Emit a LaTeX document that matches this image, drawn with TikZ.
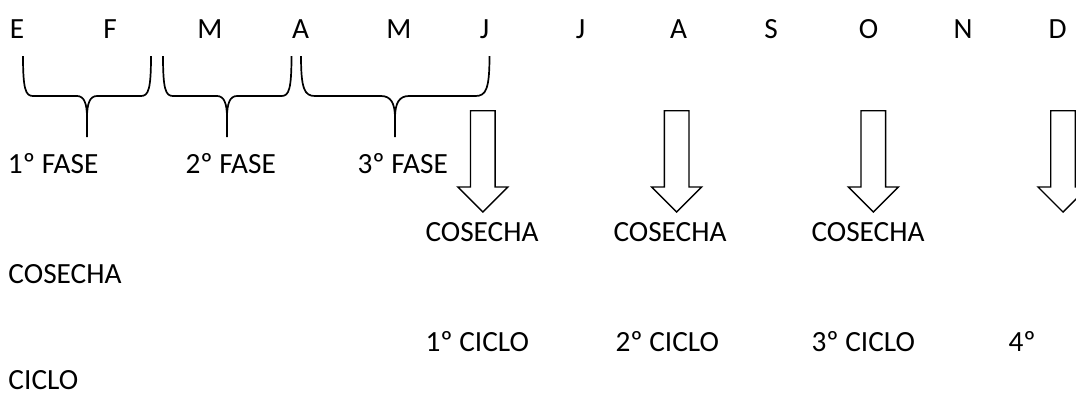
\documentclass[tikz,border=0pt]{standalone}
\usepackage{fontspec}
\setmainfont{Carlito}
\usepackage{tikz}
\usetikzlibrary{positioning}
\tikzset{
  lbl/.style     = {inner sep=0pt, outer sep=0pt, text=black,
                    font=\fontsize{29.3}{34}\selectfont},
  mes/.style     = {lbl, anchor=base},
  row/.style     = {lbl, anchor=base west},
  bracket/.style = {draw=black, line width=1.7pt, line cap=butt},
  harvest/.style = {draw=black, line width=1.4pt, line join=miter, fill=white},
}
% curly bracket over one phase: left x, right x, tip x, corner size
\newcommand{\fasebrace}[4]{%
  \draw[bracket] (#1,56) .. controls (#1,89) and (#1+0.25*#4,96) .. (#1+#4,96)
    -- (#3-#4,96) .. controls (#3-0.3*#4,96) and (#3,103) .. (#3,118) -- (#3,137);
  \draw[bracket] (#3,118) .. controls (#3,103) and (#3+0.3*#4,96) .. (#3+#4,96)
    -- (#2-#4,96) .. controls (#2-0.25*#4,96) and (#2,89) .. (#2,56);
}

\begin{document}
\begin{tikzpicture}[x=1pt, y=-1pt]
  \useasboundingbox (0,0) rectangle (1076,392);

  % months
  \node[mes] (ene) at (17,38)     {E};
  \node[mes] (feb) at (110,38)    {F};
  \node[mes] (mar) at (210,38)    {M};
  \node[mes] (abr) at (300.5,38)  {A};
  \node[mes] (may) at (399,38)    {M};
  \node[mes] (jun) at (484.5,38)  {J};
  \node[mes] (jul) at (580.5,38)  {J};
  \node[mes] (ago) at (678.7,38)  {A};
  \node[mes] (sep) at (771,38)    {S};
  \node[mes] (oct) at (868.5,38)  {O};
  \node[mes] (nov) at (963,38)    {N};
  \node[mes] (dic) at (1057.5,38) {D};

  % phases
  \fasebrace{23}{151}{87}{10}
  \fasebrace{163}{291.5}{227}{10}
  \fasebrace{301}{489.5}{395}{14}

  \node[row] (fase1) at (8,173)     {1º FASE};
  \node[row] (fase2) at (185.5,173) {2º FASE};
  \node[row] (fase3) at (357.5,173) {3º FASE};

  % harvest arrows
  \foreach \c in {482.8, 676.7, 873.3, 1063}
    \draw[harvest] (\c-12.3,110.7) -- (\c+12.3,110.7) -- (\c+12.3,187)
      -- (\c+25,187) -- (\c,212) -- (\c-25,187) -- (\c-12.3,187) -- cycle;

  \node[row] (cos1) at (425.5,241.7) {COSECHA};
  \node[row] (cos2) at (613.5,241.7) {COSECHA};
  \node[row] (cos3) at (811.5,241.7) {COSECHA};
  \node[row] (cos4) at (8.5,283)     {COSECHA};

  % cycles
  \node[row] (cic1) at (425.5,351.7) {1º CICLO};
  \node[row] (cic2) at (615.5,351.7) {2º CICLO};
  \node[row] (cic3) at (811.5,351.7) {3º CICLO};
  \node[row] (cic4) at (1008.5,351.7) {4º};
  \node[row] (cic5) at (8.5,389)     {CICLO};
\end{tikzpicture}
\end{document}
